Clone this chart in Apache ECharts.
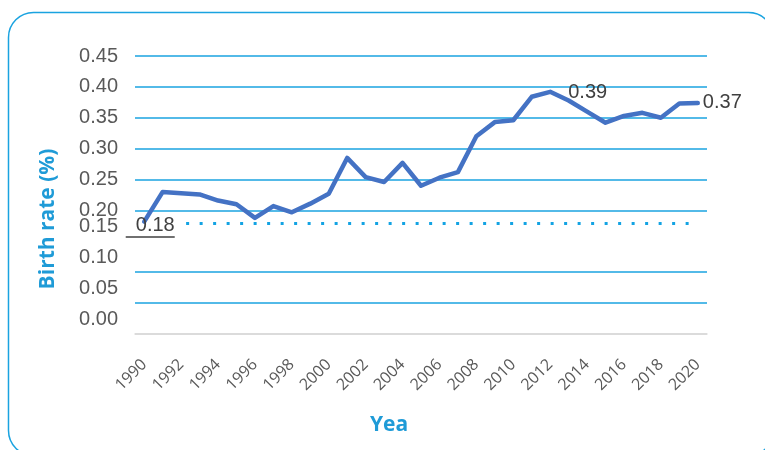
<!DOCTYPE html>
<html>
<head>
<meta charset="utf-8">
<script src="https://cdn.jsdelivr.net/npm/echarts@6/dist/echarts.min.js"></script>
<style>
html,body{margin:0;padding:0;background:#fff;}
#chart{width:765px;height:450px;}
</style>
</head>
<body>
<div id="chart"></div>
<script>
const years = ['1990','1991','1992','1993','1994','1995','1996','1997','1998','1999','2000','2001','2002','2003','2004','2005','2006','2007','2008','2009','2010','2011','2012','2013','2014','2015','2016','2017','2018','2019','2020'];
const birthRate = [0.182,0.230,0.228,0.226,0.216,0.210,0.188,0.207,0.197,0.211,0.227,0.285,0.254,0.246,0.277,0.240,0.253,0.262,0.320,0.343,0.346,0.384,0.392,0.378,0.360,0.342,0.353,0.358,0.350,0.373,0.374];
const refLevel = 0.18;
const refStart = '1992';
const refEnd = '2020';
const labelledIdx = [0, 22, 30];
const yAxisTitle = 'Birth rate (%)';
const xAxisTitle = 'Yea';

const blue = '#1aa3e0';
const titleBlue = '#1f9bd7';
const gridColors = ['#d9d9d9', blue, blue, 'rgba(0,0,0,0)', blue, blue, blue, blue, blue, blue];

const labelStyles = {
  0: {show: true, position: 'inside', offset: [6, 5],
      formatter: p => '{a|' + p.value.toFixed(2) + '}\n{u| }',
      rich: {
        a: {fontSize: 20, color: '#404040', fontFamily: 'Liberation Sans', width: 49, align: 'right', lineHeight: 21},
        u: {width: 49, height: 1.5, fontSize: 1, lineHeight: 2, backgroundColor: '#404040'}
      }},
  22: {show: true, position: 'right', distance: 18, offset: [0, 1]},
  30: {show: true, position: 'right', distance: 5}
};

const seriesData = birthRate.map((v, i) => {
  if (labelledIdx.indexOf(i) >= 0) return {value: v, label: labelStyles[i]};
  return v;
});

const chart = echarts.init(document.getElementById('chart'), null, {renderer: 'canvas'});
chart.setOption({
  backgroundColor: '#fff',
  animation: false,
  graphic: [{
    type: 'rect', silent: true, z: -1,
    shape: {x: 8.5, y: 12.5, width: 765, height: 443, r: 25},
    style: {fill: 'none', stroke: blue, lineWidth: 1.5}
  }],
  grid: {left: 135, right: 58, top: 56, bottom: 116},
  xAxis: {
    type: 'category', data: years, boundaryGap: true,
    name: xAxisTitle, nameLocation: 'middle', nameGap: 81,
    nameTextStyle: {color: titleBlue, fontSize: 21, fontWeight: 'bold', fontFamily: 'Open Sans', padding: [0, 64, 0, 0]},
    axisLine: {show: true, lineStyle: {color: '#d9d9d9', width: 1.5}},
    axisTick: {show: false},
    axisLabel: {interval: 1, rotate: 45, color: '#595959', fontSize: 16, fontFamily: 'Open Sans', margin: 28}
  },
  yAxis: {
    type: 'value', min: 0, max: 0.45, interval: 0.05,
    name: yAxisTitle, nameLocation: 'middle', nameGap: 76,
    nameTextStyle: {color: titleBlue, fontSize: 21, fontWeight: 'bold', fontFamily: 'Open Sans', padding: [0, 48, 0, 0]},
    axisLine: {show: false}, axisTick: {show: false},
    axisLabel: {
      color: '#595959', fontSize: 20, fontFamily: 'Liberation Sans', margin: 17,
      formatter: v => {
        const s = v.toFixed(2);
        return v < 0.175 ? '{lo|' + s + '}' : s;
      },
      rich: {lo: {color: '#595959', fontSize: 20, fontFamily: 'Liberation Sans', padding: [0, 0, 30, 0]}}
    },
    splitLine: {show: true, lineStyle: {color: gridColors, width: 1.5}}
  },
  series: [{
    type: 'line', data: seriesData,
    symbol: 'circle', symbolSize: 0.1, showSymbol: true, showAllSymbol: true,
    itemStyle: {color: '#4472c4'},
    lineStyle: {color: '#4472c4', width: 4.5, join: 'round', cap: 'round'},
    label: {show: false, color: '#404040', fontSize: 20, fontFamily: 'Liberation Sans',
            formatter: p => p.value.toFixed(2)},
    markLine: {
      silent: true, symbol: ['none', 'none'], label: {show: false},
      lineStyle: {color: '#13a3e3', width: 3, type: [3, 10.5], dashOffset: 8.5, cap: 'butt'},
      data: [[{coord: [refStart, refLevel]}, {coord: [refEnd, refLevel]}]]
    },
    z: 3
  }]
});
</script>
</body>
</html>
